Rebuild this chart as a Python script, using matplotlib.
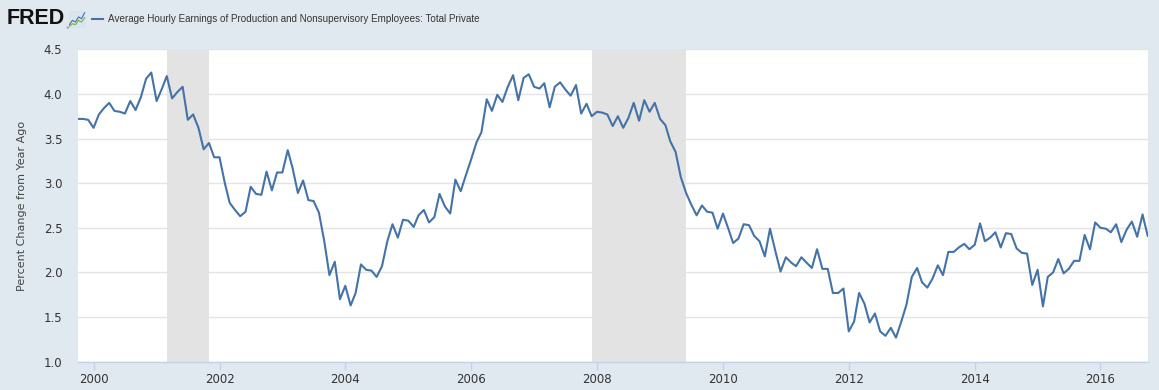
import matplotlib
matplotlib.use('Agg')
import matplotlib.pyplot as plt
from matplotlib.lines import Line2D
import pandas as pd

# Monthly percent change from year ago, Oct 1999 - Oct 2016
start_month = '1999-10-01'
pct_change = [
    3.72, 3.72, 3.71, 3.62, 3.77, 3.84, 3.90, 3.81, 3.80, 3.78,
    3.92, 3.82, 3.96, 4.17, 4.24, 3.92, 4.06, 4.20, 3.95, 4.02,
    4.08, 3.71, 3.77, 3.62, 3.38, 3.45, 3.29, 3.29, 3.00, 2.78,
    2.70, 2.63, 2.68, 2.96, 2.88, 2.87, 3.13, 2.92, 3.12, 3.12,
    3.37, 3.17, 2.89, 3.03, 2.81, 2.80, 2.67, 2.35, 1.97, 2.12,
    1.70, 1.85, 1.63, 1.77, 2.09, 2.03, 2.02, 1.95, 2.07, 2.35,
    2.54, 2.39, 2.59, 2.58, 2.51, 2.64, 2.70, 2.56, 2.62, 2.88,
    2.74, 2.66, 3.04, 2.91, 3.09, 3.27, 3.46, 3.57, 3.94, 3.81,
    3.99, 3.91, 4.08, 4.21, 3.93, 4.18, 4.22, 4.08, 4.06, 4.12,
    3.85, 4.08, 4.13, 4.05, 3.98, 4.10, 3.78, 3.89, 3.75, 3.80,
    3.79, 3.77, 3.64, 3.75, 3.62, 3.73, 3.90, 3.70, 3.93, 3.80,
    3.90, 3.72, 3.65, 3.47, 3.35, 3.07, 2.89, 2.76, 2.64, 2.75,
    2.68, 2.67, 2.49, 2.66, 2.49, 2.33, 2.38, 2.54, 2.53, 2.41,
    2.35, 2.18, 2.49, 2.24, 2.01, 2.17, 2.11, 2.07, 2.17, 2.11,
    2.05, 2.26, 2.04, 2.04, 1.77, 1.77, 1.82, 1.34, 1.45, 1.77,
    1.65, 1.44, 1.54, 1.34, 1.29, 1.38, 1.27, 1.45, 1.64, 1.95,
    2.05, 1.89, 1.83, 1.93, 2.08, 1.97, 2.23, 2.23, 2.28, 2.32,
    2.26, 2.31, 2.55, 2.35, 2.39, 2.45, 2.28, 2.44, 2.43, 2.27,
    2.22, 2.21, 1.86, 2.03, 1.62, 1.95, 2.00, 2.15, 1.99, 2.04,
    2.13, 2.13, 2.42, 2.26, 2.56, 2.50, 2.49, 2.45, 2.54, 2.34,
    2.48, 2.57, 2.40, 2.65, 2.41,
]
recessions = [('2001-03-01', '2001-11-01'), ('2007-12-01', '2009-06-01')]
tick_years = [2000, 2002, 2004, 2006, 2008, 2010, 2012, 2014, 2016]
y_ticks = [1.0, 1.5, 2.0, 2.5, 3.0, 3.5, 4.0, 4.5]
series_name = 'Average Hourly Earnings of Production and Nonsupervisory Employees: Total Private'

# little logo chart
icon_blue = [0.2, 0.45, 0.35, 0.65, 0.55, 0.9]
icon_green = [0.1, 0.25, 0.2, 0.45, 0.35, 0.6]

dates = pd.date_range(start_month, periods=len(pct_change), freq='MS')

W, H = 1159, 390
bg = '#e1e9f0'
line_col = '#4572a7'

fig = plt.figure(figsize=(W / 100, H / 100), dpi=100, facecolor=bg)
ax = fig.add_axes([77.7 / W, 1 - 361.7 / H, (1147.7 - 77.7) / W, (361.7 - 49.3) / H])
ax.set_facecolor('white')

for s, e in recessions:
    ax.axvspan(pd.Timestamp(s), pd.Timestamp(e), color='#e3e3e3', lw=0, zorder=1)

ax.plot(dates, pct_change, color=line_col, lw=1.5, zorder=3)

ax.set_xlim(dates[0], dates[-1])
ax.set_ylim(1.0, 4.5)
ax.set_yticks(y_ticks)
ax.set_yticklabels([f'{v:.1f}' for v in y_ticks])
ax.set_xticks([pd.Timestamp(f'{y}-01-01') for y in tick_years])
ax.set_xticklabels([str(y) for y in tick_years])
ax.grid(axis='y', color='#e4e4e4', lw=1, zorder=0)
ax.set_axisbelow(True)

for side in ['top', 'right', 'left']:
    ax.spines[side].set_visible(False)
ax.spines['bottom'].set_color('#c5d3e2')
ax.spines['bottom'].set_linewidth(1)
ax.tick_params(axis='x', direction='out', length=6, width=1, color='#c5d3e2',
               labelcolor='#333333', labelsize=8.5, pad=2)
ax.tick_params(axis='y', length=0, labelcolor='#333333', labelsize=8.5, pad=11)

fig.text(22 / W, 1 - 205.5 / H, 'Percent Change from Year Ago', rotation=90,
         ha='center', va='center', fontsize=8, color='#444444')

# header: logo, legend line, series title
fig.text(7 / W, 1 - 19 / H, 'FRED', fontsize=15.5, fontweight='bold',
         family='Liberation Sans', color='#111111', ha='left', va='center')
fig.text(65.5 / W, 1 - 28.5 / H, '®', fontsize=2.5, color='#333333',
         ha='left', va='center')
icon = fig.add_axes([68.5 / W, 1 - 28 / H, 17 / W, 17 / H])
icon.set_facecolor('#d9e4ee')
icon.plot(range(len(icon_blue)), icon_blue, color='#4572a7', lw=0.8)
icon.plot(range(len(icon_green)), icon_green, color='#76b041', lw=0.8)
icon.set_xlim(-0.3, 5.3)
icon.set_ylim(0, 1)
icon.set_xticks([])
icon.set_yticks([])
for sp in icon.spines.values():
    sp.set_visible(False)

fig.add_artist(Line2D([92 / W, 103 / W], [1 - 19.3 / H, 1 - 19.3 / H],
                     transform=fig.transFigure, color=line_col, lw=1.5))
fig.text(107.7 / W, 1 - 19.5 / H, series_name, fontsize=7.1, color='#333333',
         ha='left', va='center', family='Liberation Sans')

fig.savefig('out.png', dpi=100, facecolor=bg)
